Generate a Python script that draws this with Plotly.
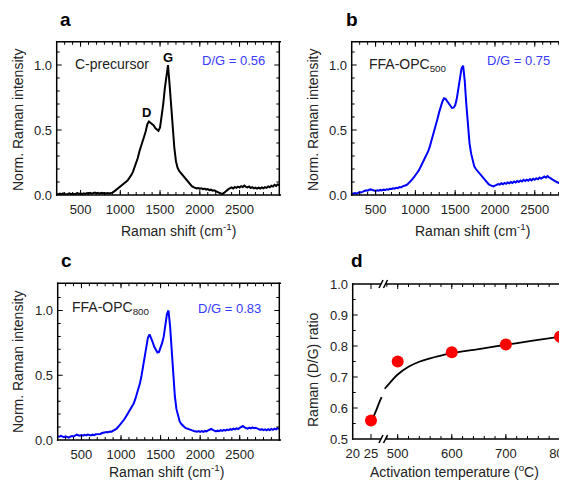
import plotly.graph_objects as go

# the page body has an 8 px margin, so the figure is drawn from (8, 8)
OFF = 8
WIN_W, WIN_H = 567, 481
W, H = WIN_W - OFF, WIN_H - OFF

# ---------------- data ----------------
raman_shift = list(range(200, 3001, 20))  # cm^-1 sample grid

c_precursor = [
    0.008, 0.004, 0.010, 0.006, 0.012, 0.007, 0.003, 0.009, 0.013, 0.006,
    0.010, 0.004, 0.011, 0.015, 0.008, 0.012, 0.006, 0.013, 0.009, 0.015,
    0.011, 0.017, 0.010, 0.014, 0.018, 0.012, 0.016, 0.011, 0.017, 0.013,
    0.016, 0.012, 0.015, 0.011, 0.014, 0.018, 0.026, 0.035, 0.044, 0.055,
    0.065, 0.074, 0.085, 0.094, 0.105, 0.118, 0.135, 0.155, 0.18, 0.21,
    0.245, 0.285, 0.335, 0.38, 0.42, 0.45, 0.49, 0.545, 0.565, 0.555,
    0.55, 0.535, 0.515, 0.5, 0.493, 0.52, 0.6, 0.7, 0.82, 0.93,
    1.0, 0.85, 0.66, 0.49, 0.36, 0.26, 0.21, 0.185, 0.17, 0.155,
    0.14, 0.125, 0.105, 0.09, 0.078, 0.068, 0.06, 0.055, 0.05, 0.054,
    0.048, 0.052, 0.045, 0.049, 0.042, 0.046, 0.038, 0.041, 0.033, 0.036,
    0.027, 0.024, 0.018, 0.012, 0.008, 0.014, 0.022, 0.035, 0.045, 0.052,
    0.058, 0.05, 0.062, 0.055, 0.064, 0.058, 0.068, 0.061, 0.072, 0.063,
    0.058, 0.066, 0.054, 0.06, 0.051, 0.057, 0.049, 0.056, 0.05, 0.058,
    0.052, 0.061, 0.055, 0.066, 0.06, 0.071, 0.065, 0.078, 0.07, 0.082,
    0.077,
]

opc500 = [
    0.008, 0.012, 0.015, 0.011, 0.018, 0.022, 0.019, 0.027, 0.031, 0.036,
    0.033, 0.04, 0.043, 0.038, 0.035, 0.031, 0.036, 0.033, 0.039, 0.035,
    0.041, 0.038, 0.044, 0.041, 0.048, 0.046, 0.052, 0.049, 0.056, 0.053,
    0.061, 0.058, 0.066, 0.069, 0.075, 0.082, 0.093, 0.106, 0.12, 0.135,
    0.15, 0.168, 0.187, 0.21, 0.235, 0.26, 0.283, 0.305, 0.335, 0.37,
    0.41, 0.455, 0.5, 0.545, 0.59, 0.64, 0.685, 0.72, 0.745, 0.74,
    0.722, 0.705, 0.685, 0.67, 0.672, 0.69, 0.74, 0.81, 0.9, 0.975,
    0.995, 0.88, 0.7, 0.53, 0.4, 0.32, 0.26, 0.22, 0.2, 0.185,
    0.17, 0.155, 0.135, 0.12, 0.105, 0.094, 0.083, 0.076, 0.07, 0.066,
    0.072, 0.078, 0.084, 0.08, 0.09, 0.083, 0.093, 0.086, 0.097, 0.09,
    0.1, 0.093, 0.104, 0.096, 0.108, 0.1, 0.112, 0.104, 0.117, 0.108,
    0.118, 0.11, 0.122, 0.113, 0.125, 0.117, 0.129, 0.121, 0.134, 0.127,
    0.138, 0.142, 0.133, 0.145, 0.136, 0.128, 0.118, 0.11, 0.104, 0.098,
    0.094, 0.087, 0.091, 0.084, 0.095, 0.089, 0.097, 0.09, 0.098, 0.092,
    0.096,
]

opc800 = [
    0.03, 0.025, 0.032, 0.027, 0.022, 0.028, 0.023, 0.018, 0.026, 0.031,
    0.027, 0.036, 0.041, 0.037, 0.033, 0.038, 0.034, 0.04, 0.036, 0.042,
    0.038, 0.035, 0.041, 0.037, 0.044, 0.045, 0.05, 0.047, 0.054, 0.058,
    0.056, 0.062, 0.06, 0.066, 0.064, 0.07, 0.075, 0.085, 0.098, 0.112,
    0.128, 0.142, 0.158, 0.178, 0.198, 0.218, 0.238, 0.258, 0.282, 0.315,
    0.355, 0.395, 0.44, 0.5, 0.57, 0.64, 0.72, 0.79, 0.815, 0.79,
    0.755, 0.72, 0.69, 0.675, 0.68, 0.71, 0.75, 0.8, 0.89, 0.97,
    1.0, 0.88, 0.7, 0.5, 0.34, 0.24, 0.18, 0.145, 0.125, 0.11,
    0.1, 0.092, 0.086, 0.082, 0.078, 0.074, 0.07, 0.067, 0.064, 0.069,
    0.063, 0.068, 0.062, 0.07, 0.066, 0.074, 0.079, 0.085, 0.078, 0.07,
    0.066, 0.072, 0.068, 0.076, 0.07, 0.078, 0.073, 0.081, 0.076, 0.084,
    0.079, 0.087, 0.082, 0.09, 0.085, 0.094, 0.1, 0.108, 0.098, 0.091,
    0.087, 0.095, 0.089, 0.097, 0.091, 0.095, 0.088, 0.083, 0.078, 0.084,
    0.076, 0.082, 0.075, 0.083, 0.077, 0.086, 0.079, 0.088, 0.082, 0.091,
    0.087,
]

# panel d: D/G ratio vs activation temperature
temp_low = [25]
ratio_low = [0.56]
temp_high = [500, 600, 700, 800]
ratio_high = [0.75, 0.78, 0.805, 0.83]

fit_temp_low = [25.6, 26.5, 27.4, 27.9]
fit_ratio_low = [0.57, 0.595, 0.622, 0.635]
fit_temp_high = [476, 490, 500, 520, 541, 560, 578, 600, 650, 700, 750, 800]
fit_ratio_high = [0.662, 0.69, 0.708, 0.733, 0.75, 0.76, 0.768, 0.777, 0.79, 0.804, 0.817, 0.83]

shift_ticks = [500, 1000, 1500, 2000, 2500]
inten_ticks = [0.0, 0.5, 1.0]
ratio_ticks = [0.5, 0.6, 0.7, 0.8, 0.9, 1.0]
temp_ticks_low = [20, 25]
temp_ticks_high = [500, 600, 700, 800]

shift_minor = list(range(300, 3000, 100))
inten_minor = [0.1, 0.2, 0.3, 0.4, 0.6, 0.7, 0.8, 0.9, 1.1]
ratio_minor = [0.55, 0.65, 0.75, 0.85, 0.95]
temp_minor_high = list(range(480, 813, 20))

# ---------------- helpers ----------------
FONT = "Arial, Liberation Sans, sans-serif"
TXT = "#222222"
BLUE_TXT = "#3a3aff"


def px(x):
    return (x - OFF) / W


def py(y):
    return 1 - (y - OFF) / H


def xaxis_style(domain, rng, ticks, anchor):
    return dict(
        domain=domain, range=rng, anchor=anchor, automargin=False,
        tickmode="array", tickvals=ticks,
        ticks="outside", ticklen=2, tickcolor="rgba(0,0,0,0)",
        showline=False, showgrid=False, zeroline=False, ticklabeloverflow="allow",
        tickfont=dict(family=FONT, size=13, color=TXT),
    )


def yaxis_style(domain, rng, ticks, anchor):
    return dict(
        domain=domain, range=rng, anchor=anchor, automargin=False,
        tickmode="array", tickvals=ticks, tickformat=".1f",
        ticks="outside", ticklen=1, tickcolor="rgba(0,0,0,0)",
        showline=False, showgrid=False, zeroline=False,
        tickfont=dict(family=FONT, size=13, color=TXT),
    )


fig = go.Figure()

fig.add_trace(go.Scatter(x=raman_shift, y=c_precursor, mode="lines",
                         line=dict(color="black", width=2), xaxis="x", yaxis="y"))
fig.add_trace(go.Scatter(x=raman_shift, y=opc500, mode="lines",
                         line=dict(color="#0000ff", width=2), xaxis="x2", yaxis="y2"))
fig.add_trace(go.Scatter(x=raman_shift, y=opc800, mode="lines",
                         line=dict(color="#0000ff", width=2), xaxis="x3", yaxis="y3"))

fig.add_trace(go.Scatter(x=fit_temp_low, y=fit_ratio_low, mode="lines",
                         line=dict(color="black", width=1.8, shape="spline"),
                         xaxis="x4", yaxis="y4"))
fig.add_trace(go.Scatter(x=fit_temp_high, y=fit_ratio_high, mode="lines",
                         line=dict(color="black", width=1.8, shape="spline"),
                         xaxis="x5", yaxis="y5"))
fig.add_trace(go.Scatter(x=temp_low, y=ratio_low, mode="markers",
                         marker=dict(color="#ff0000", size=12),
                         xaxis="x4", yaxis="y4"))
fig.add_trace(go.Scatter(x=temp_high, y=ratio_high, mode="markers",
                         marker=dict(color="#ff0000", size=12),
                         xaxis="x5", yaxis="y5"))

# panel geometry (pixels of the window)
A_X = (56.7, 279.3)
B_X = (351.7, 567)
C_X = (57.7, 279.3)
D_X = (352.7, 567)
brk = 384
TOP_Y = (41.7, 195)
BOT_Y = (283.3, 440)
D_Y = (284, 439)

top_dom = [py(TOP_Y[1]), py(TOP_Y[0])]
bot_dom = [py(BOT_Y[1]), py(BOT_Y[0])]
d_dom = [py(D_Y[1]), py(D_Y[0])]

fig.update_layout(
    width=W, height=H,
    margin=dict(l=0, r=0, t=0, b=0, pad=0, autoexpand=False),
    paper_bgcolor="white", plot_bgcolor="white",
    showlegend=False,
    xaxis=xaxis_style([px(A_X[0]), px(A_X[1])], [200, 3000], shift_ticks, "y"),
    yaxis=yaxis_style(top_dom, [0, 1.18], inten_ticks, "x"),
    xaxis2=xaxis_style([px(B_X[0]), 1.0], [200, 2905], shift_ticks, "y2"),
    yaxis2=yaxis_style(top_dom, [0, 1.18], inten_ticks, "x2"),
    xaxis3=xaxis_style([px(C_X[0]), px(C_X[1])], [200, 3000], shift_ticks, "y3"),
    yaxis3=yaxis_style(bot_dom, [0, 1.21], inten_ticks, "x3"),
    xaxis4=xaxis_style([px(D_X[0]), px(brk)], [20, 28.55], temp_ticks_low, "y4"),
    yaxis4=yaxis_style(d_dom, [0.5, 1.0], ratio_ticks, "x4"),
    xaxis5=xaxis_style([px(brk), 1.0], [474.7, 813], temp_ticks_high, "y5"),
    yaxis5=dict(domain=d_dom, range=[0.5, 1.0], anchor="x5", automargin=False,
                showline=False, showticklabels=False, ticks="",
                showgrid=False, zeroline=False),
)

# ---------------- frames and ticks drawn as thin filled rectangles ----------------
shapes = []
BLACK = "black"


def bar(x0, y0, x1, y1, color=BLACK):
    """filled rectangle in window pixels"""
    shapes.append(dict(type="rect", xref="paper", yref="paper",
                       x0=px(min(x0, x1)), x1=px(max(x0, x1)),
                       y0=py(max(y0, y1)), y1=py(min(y0, y1)),
                       fillcolor=color, line=dict(width=0)))


def hline(x0, x1, y, t=1.5):
    bar(x0 - t / 2, y - t / 2, x1 + t / 2, y + t / 2)


def vline(x, y0, y1, t=1.5):
    bar(x - t / 2, y0 - t / 2, x + t / 2, y1 + t / 2)


def xticks(xref, vals, rng, ybot, ytop, length):
    for v in vals:
        if v <= rng[0] or v >= rng[1]:
            continue
        for ya, yb in ((ybot, ybot - length), (ytop, ytop + length)):
            shapes.append(dict(type="rect", xref=xref, yref="paper",
                               xsizemode="pixel", xanchor=v, x0=-0.5, x1=0.5,
                               y0=py(max(ya, yb)), y1=py(min(ya, yb)),
                               fillcolor=BLACK, line=dict(width=0)))


def yticks(yref, vals, rng, xleft, xright, length):
    for v in vals:
        if v <= rng[0] or v >= rng[1]:
            continue
        sides = [(xleft, xleft + length)]
        if xright is not None:
            sides.append((xright - length, xright))
        for xa, xb in sides:
            shapes.append(dict(type="rect", xref="paper", yref=yref,
                               ysizemode="pixel", yanchor=v, y0=-0.5, y1=0.5,
                               x0=px(xa), x1=px(xb),
                               fillcolor=BLACK, line=dict(width=0)))


# panel a
xticks("x", shift_minor, [200, 3000], TOP_Y[1], TOP_Y[0], 3)
xticks("x", shift_ticks, [200, 3000], TOP_Y[1], TOP_Y[0], 5)
yticks("y", inten_minor, [0, 1.18], A_X[0], A_X[1], 3)
yticks("y", inten_ticks, [0, 1.18], A_X[0], A_X[1], 5)
# panel b
xticks("x2", shift_minor, [200, 2905], TOP_Y[1], TOP_Y[0], 3)
xticks("x2", shift_ticks, [200, 2905], TOP_Y[1], TOP_Y[0], 5)
yticks("y2", inten_minor, [0, 1.18], B_X[0], None, 3)
yticks("y2", inten_ticks, [0, 1.18], B_X[0], None, 5)
# panel c
xticks("x3", shift_minor, [200, 3000], BOT_Y[1], BOT_Y[0], 3)
xticks("x3", shift_ticks, [200, 3000], BOT_Y[1], BOT_Y[0], 5)
yticks("y3", inten_minor, [0, 1.21], C_X[0], C_X[1], 3)
yticks("y3", inten_ticks, [0, 1.21], C_X[0], C_X[1], 5)
# panel d
xticks("x4", temp_ticks_low, [20, 28.55], D_Y[1], D_Y[0], 5)
xticks("x5", temp_minor_high, [474.7, 813], D_Y[1], D_Y[0], 3)
xticks("x5", temp_ticks_high, [474.7, 813], D_Y[1], D_Y[0], 5)
yticks("y4", ratio_minor, [0.5, 1.0], D_X[0], None, 3)
yticks("y4", ratio_ticks, [0.5, 1.0], D_X[0], None, 5)

# frames
for (x0, x1), (y0, y1), right in ((A_X, TOP_Y, True), (B_X, TOP_Y, False),
                                  (C_X, BOT_Y, True), (D_X, D_Y, False)):
    vline(x0, y0, y1)
    hline(x0, x1 + 1, y1)
    hline(x0, x1 + 1, y0)
    if right:
        vline(x1, y0, y1)

# axis-break marks in panel d
for yb in D_Y:
    bar(brk - 3, yb - 2, brk + 2, yb + 2, color="white")
    for off in (-3, 1.5):
        shapes.append(dict(type="line", xref="paper", yref="paper",
                           x0=px(brk + off - 2), y0=py(yb + 4),
                           x1=px(brk + off + 2), y1=py(yb - 4),
                           line=dict(color=BLACK, width=1.5)))

fig.update_layout(shapes=shapes)

# ---------------- text ----------------
ann = []


def text(x, y, s, size=14, color=TXT, xanchor="center", yanchor="middle", bold=False, angle=0):
    ann.append(dict(x=px(x), y=py(y), xref="paper", yref="paper", text=(f"<b>{s}</b>" if bold else s),
                    showarrow=False, xanchor=xanchor, yanchor=yanchor, textangle=angle,
                    font=dict(family=FONT, size=size, color=color)))


text(65, 20, "a", size=19, color="black", bold=True)
text(352, 20, "b", size=19, color="black", bold=True)
text(66, 260, "c", size=19, color="black", bold=True)
text(357, 260, "d", size=19, color="black", bold=True)

text(18, 120, "Norm. Raman intensity", angle=-90)
text(313, 120, "Norm. Raman intensity", angle=-90)
text(18, 362, "Norm. Raman intensity", angle=-90)
text(313, 370, "Raman (D/G) ratio", angle=-90)
text(178, 230, "Raman shift (cm<sup>-1</sup>)")
text(472, 230, "Raman shift (cm<sup>-1</sup>)")
text(166, 471, "Raman shift (cm<sup>-1</sup>)")
text(454, 471, "Activation temperature (<sup>o</sup>C)")

text(73, 64, "C-precursor", xanchor="left")
text(146, 112, "D", size=13, color="black", bold=True)
text(168, 58, "G", size=13, color="black", bold=True)
text(267, 60, "D/G = 0.56", size=13, color=BLUE_TXT, xanchor="right")
text(367, 65, "FFA-OPC<sub>500</sub>", xanchor="left")
text(552, 60, "D/G = 0.75", size=13, color=BLUE_TXT, xanchor="right")
text(70, 308, "FFA-OPC<sub>800</sub>", xanchor="left")
text(263, 308, "D/G = 0.83", size=13, color=BLUE_TXT, xanchor="right")

fig.update_layout(annotations=ann)

fig.write_html("out.html")
